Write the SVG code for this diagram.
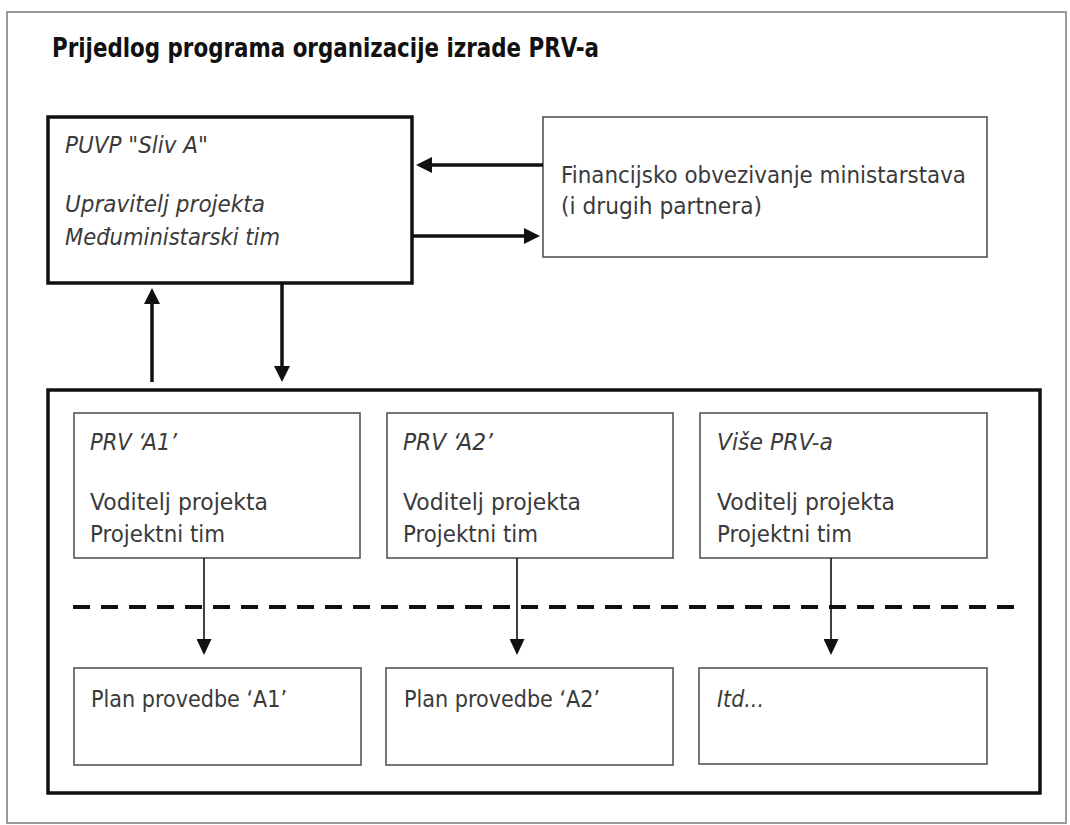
<svg xmlns="http://www.w3.org/2000/svg" width="1070" height="825" viewBox="0 0 1070 825">
  <defs>
    <style>
      .frame { fill: #ffffff; stroke: #9a9a9a; stroke-width: 2; }
      .thick { fill: #ffffff; stroke: #111111; stroke-width: 3.5; }
      .thin { fill: #ffffff; stroke: #555555; stroke-width: 1.6; }
      .title { font-family: "DejaVu Sans", "Liberation Sans", sans-serif; font-weight: bold; font-size: 27px; fill: #111111; }
      .t { font-family: "DejaVu Sans", "Liberation Sans", sans-serif; font-size: 23px; fill: #3a3a3a; }
      .i { font-style: italic; }
      .cthick { stroke: #111111; stroke-width: 3.5; fill: none; }
      .cthin { stroke: #111111; stroke-width: 1.6; fill: none; }
      .dash { stroke: #111111; stroke-width: 4; stroke-dasharray: 17 11; fill: none; }
    </style>
    <marker id="ahThick" markerUnits="userSpaceOnUse" viewBox="0 0 16 16" markerWidth="16" markerHeight="16" refX="1" refY="8" orient="auto">
      <path d="M0,0 L16,8 L0,16 z" fill="#111111"/>
    </marker>
    <marker id="ahThin" markerUnits="userSpaceOnUse" viewBox="0 0 16 15" markerWidth="16" markerHeight="15" refX="1" refY="7.5" orient="auto">
      <path d="M0,0 L16,7.5 L0,15 z" fill="#111111"/>
    </marker>
  </defs>

  <rect class="frame" x="7" y="12" width="1059" height="811"/>
  <text class="title" x="52" y="57" textLength="547" lengthAdjust="spacingAndGlyphs">Prijedlog programa organizacije izrade PRV-a</text>

  <g id="puvp">
    <rect class="thick" x="48" y="117" width="364" height="166"/>
    <text class="t i" x="65" y="153" textLength="143" lengthAdjust="spacingAndGlyphs">PUVP "Sliv A"</text>
    <text class="t i" x="65" y="212" textLength="200" lengthAdjust="spacingAndGlyphs">Upravitelj projekta</text>
    <text class="t i" x="65" y="245" textLength="215" lengthAdjust="spacingAndGlyphs">Međuministarski tim</text>
  </g>

  <g id="financijsko">
    <rect class="thin" x="543" y="117" width="444" height="140"/>
    <text class="t" x="561" y="183" textLength="405" lengthAdjust="spacingAndGlyphs">Financijsko obvezivanje ministarstava</text>
    <text class="t" x="561" y="214" textLength="201" lengthAdjust="spacingAndGlyphs">(i drugih partnera)</text>
  </g>

  <g id="prv-group">
    <rect class="thick" x="48" y="390" width="992" height="403"/>
  </g>

  <g id="prv-a1">
    <rect class="thin" x="74" y="413" width="286" height="145"/>
    <text class="t i" x="90" y="450" textLength="87" lengthAdjust="spacingAndGlyphs">PRV ‘A1’</text>
    <text class="t" x="90" y="510" textLength="178" lengthAdjust="spacingAndGlyphs">Voditelj projekta</text>
    <text class="t" x="90" y="542" textLength="135" lengthAdjust="spacingAndGlyphs">Projektni tim</text>
  </g>

  <g id="prv-a2">
    <rect class="thin" x="387" y="413" width="286" height="145"/>
    <text class="t i" x="403" y="450" textLength="90" lengthAdjust="spacingAndGlyphs">PRV ‘A2’</text>
    <text class="t" x="403" y="510" textLength="178" lengthAdjust="spacingAndGlyphs">Voditelj projekta</text>
    <text class="t" x="403" y="542" textLength="135" lengthAdjust="spacingAndGlyphs">Projektni tim</text>
  </g>

  <g id="vise-prv">
    <rect class="thin" x="700" y="413" width="287" height="145"/>
    <text class="t i" x="717" y="450" textLength="116" lengthAdjust="spacingAndGlyphs">Više PRV-a</text>
    <text class="t" x="717" y="510" textLength="178" lengthAdjust="spacingAndGlyphs">Voditelj projekta</text>
    <text class="t" x="717" y="542" textLength="135" lengthAdjust="spacingAndGlyphs">Projektni tim</text>
  </g>

  <g id="plan-a1">
    <rect class="thin" x="74" y="668" width="287" height="97"/>
    <text class="t" x="91" y="707" textLength="196" lengthAdjust="spacingAndGlyphs">Plan provedbe ‘A1’</text>
  </g>

  <g id="plan-a2">
    <rect class="thin" x="386" y="668" width="287" height="97"/>
    <text class="t" x="404" y="707" textLength="196" lengthAdjust="spacingAndGlyphs">Plan provedbe ‘A2’</text>
  </g>

  <g id="itd">
    <rect class="thin" x="699" y="668" width="288" height="96"/>
    <text class="t i" x="717" y="707" textLength="47" lengthAdjust="spacingAndGlyphs">Itd...</text>
  </g>

  <g id="connectors">
    <line class="cthick" x1="543" y1="165" x2="431" y2="165" marker-end="url(#ahThick)"/>
    <line class="cthick" x1="412" y1="236" x2="525" y2="236" marker-end="url(#ahThick)"/>
    <line class="cthick" x1="152" y1="382" x2="152" y2="303" marker-end="url(#ahThick)"/>
    <line class="cthick" x1="282" y1="284" x2="282" y2="367" marker-end="url(#ahThick)"/>
    <line class="dash" x1="73" y1="607" x2="1015" y2="607"/>
    <line class="cthin" x1="204" y1="558" x2="204" y2="640" marker-end="url(#ahThin)"/>
    <line class="cthin" x1="517" y1="558" x2="517" y2="640" marker-end="url(#ahThin)"/>
    <line class="cthin" x1="831" y1="558" x2="831" y2="640" marker-end="url(#ahThin)"/>
  </g>
</svg>
